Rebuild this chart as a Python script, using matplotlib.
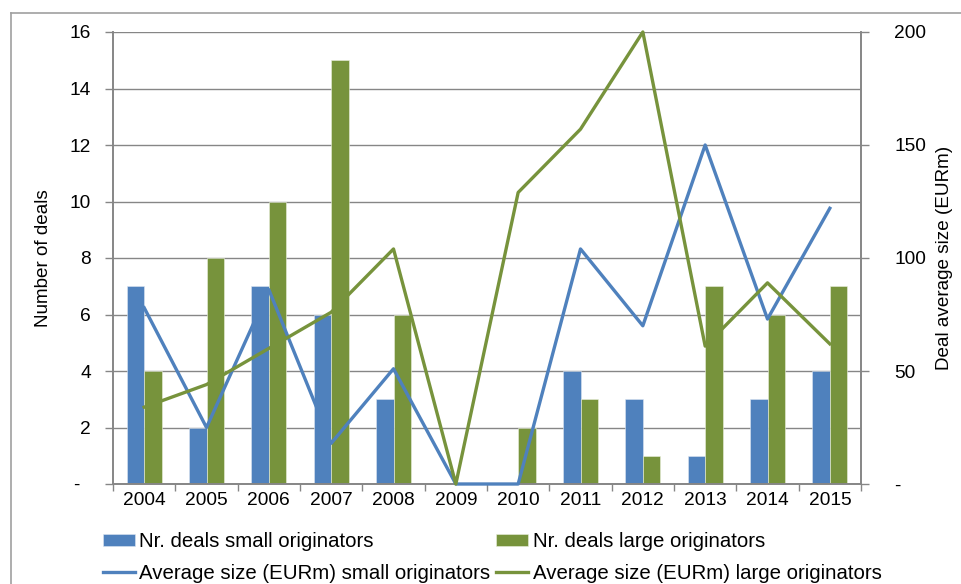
import matplotlib
matplotlib.use("Agg")
import matplotlib.pyplot as plt
import numpy as np
from matplotlib.lines import Line2D

plt.rcParams['font.family'] = ['Liberation Sans', 'DejaVu Sans']

years = ["2004", "2005", "2006", "2007", "2008", "2009", "2010",
         "2011", "2012", "2013", "2014", "2015"]
deals_small = [7, 2, 7, 6, 3, 0, 0, 4, 3, 1, 3, 4]
deals_large = [4, 8, 10, 15, 6, 0, 2, 3, 1, 7, 6, 7]
avg_small = [78, 25, 86, 18, 51, 0, 0, 104, 70, 150, 73, 122]
avg_large = [34, 44, 60, 76, 104, 0, 129, 157, 200, 61, 89, 62]

left_ticks = [0, 2, 4, 6, 8, 10, 12, 14, 16]
left_labels = ["-  ", "2", "4", "6", "8", "10", "12", "14", "16"]
right_ticks = [0, 50, 100, 150, 200]
right_labels = ["-", "50", "100", "150", "200"]

BLUE = "#4F81BD"
GREEN = "#77933C"
GREY = "#868686"

W, H = 961, 584
fig = plt.figure(figsize=(W / 100, H / 100), dpi=100)

# outer chart frame
fig.add_artist(Line2D([11 / W, 11 / W], [0, 1 - 13 / H], color="#A0A0A0", lw=1.2))
fig.add_artist(Line2D([11 / W, 1], [1 - 13 / H, 1 - 13 / H], color="#A0A0A0", lw=1.2))

left, right, top, bottom = 113, 861, 32, 484
ax = fig.add_axes([left / W, 1 - bottom / H, (right - left) / W, (bottom - top) / H])
ax2 = ax.twinx()

x = np.arange(len(years))
bw = 0.283
bars_s = ax.bar(x - bw / 2, deals_small, bw, color=BLUE, edgecolor="#DCE6F2", linewidth=0.4, zorder=2)
bars_l = ax.bar(x + bw / 2, deals_large, bw, color=GREEN, edgecolor="#EBF1DE", linewidth=0.4, zorder=2)

ax.set_xlim(-0.5, len(years) - 0.5)
ax.set_ylim(0, 16)
ax.set_yticks(left_ticks)
ax.set_yticklabels(left_labels)
ax.grid(axis="y", color=GREY, linewidth=1.0, zorder=0)
ax.set_axisbelow(True)

ax.set_xticks(x)
ax.set_xticklabels(years)
ax.set_xticks(np.arange(-0.5, len(years)), minor=True)
ax.tick_params(axis="x", which="major", length=0, pad=6, labelsize=13.8)
ax.tick_params(axis="x", which="minor", length=5, color=GREY, width=1)
ax.tick_params(axis="y", length=6, color=GREY, width=1, pad=10, labelsize=13.8)

line_s, = ax2.plot(x, avg_small, color=BLUE, lw=2.4, clip_on=False, zorder=3)
line_l, = ax2.plot(x, avg_large, color=GREEN, lw=2.4, clip_on=False, zorder=3)
ax2.set_ylim(0, 200)
ax2.set_yticks(right_ticks)
ax2.set_yticklabels(right_labels)
ax2.tick_params(axis="y", length=6, color=GREY, width=1, pad=18, labelsize=13.8)

for a in (ax, ax2):
    for s in a.spines.values():
        s.set_color(GREY)
        s.set_linewidth(1.2)
ax2.spines["top"].set_visible(False)
ax.spines["top"].set_visible(False)

ax.set_ylabel("Number of deals", fontsize=13.6)
ax.yaxis.set_label_coords(-61 / (right - left), 0.5)
ax2.set_ylabel("Deal average size (EURm)", fontsize=13.6)
ax2.yaxis.set_label_coords(1 + 75 / (right - left), 0.5)

handles = [bars_s, line_s, bars_l, line_l]
labels = ["Nr. deals small originators", "Average size (EURm) small originators",
          "Nr. deals large originators", "Average size (EURm) large originators"]
fig.legend(handles, labels, ncol=2, loc="upper left",
           bbox_to_anchor=(103 / W, 1 - 532 / H), frameon=False,
           fontsize=14.7, handlelength=1.57, handleheight=0.5, handletextpad=0.2,
           columnspacing=0.3, labelspacing=0.63, borderpad=0, borderaxespad=0)

fig.savefig("out.png", dpi=100)
